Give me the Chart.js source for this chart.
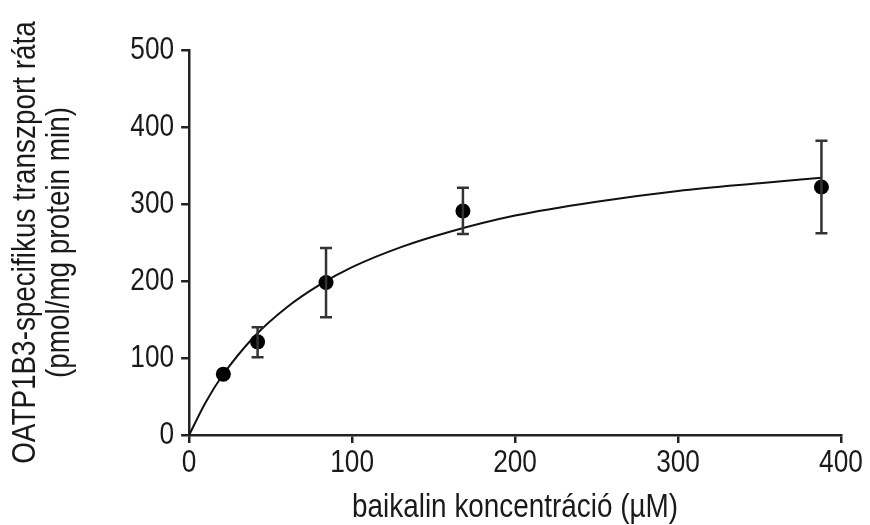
<!DOCTYPE html>
<html>
<head>
<meta charset="utf-8">
<script src="https://cdn.jsdelivr.net/npm/chart.js@4.4.1/dist/chart.umd.min.js"></script>
<style>
html,body{margin:0;padding:0;background:#fff;}
#wrap{width:870px;height:525px;}
</style>
</head>
<body>
<div id="wrap"><canvas id="c" width="870" height="525"></canvas></div>
<script>
// Measured points
const concentrations = [21, 42, 84, 168, 388];
const rates = [79, 121, 198, 291, 322];
const errUpper = [84, 140, 243, 321, 382];
const errLower = [74, 101, 153, 261, 262];
// Fitted curve
const curveX = [0, 10, 20, 40, 60, 80, 100, 130, 160, 200, 250, 300, 350, 388];
const curveY = [0, 42, 76, 128, 166, 195, 218, 244, 264, 285, 303, 317, 327, 334];
const xTicks = [0, 100, 200, 300, 400];
const yTicks = [0, 100, 200, 300, 400, 500];

const pts = concentrations.map((x, i) => ({x: x, y: rates[i]}));
const curve = curveX.map((x, i) => ({x: x, y: curveY[i]}));

// Narrow-looking text: compress glyphs horizontally (no narrow font installed)
const canvas = document.getElementById('c');
const ctx2d = canvas.getContext('2d');
const SQUEEZE = 0.82;
const origFill = ctx2d.fillText.bind(ctx2d);
const origMeasure = ctx2d.measureText.bind(ctx2d);
ctx2d.fillText = function (t, x, y) {
  this.save();
  this.translate(x, y);
  this.scale(SQUEEZE, 1);
  origFill(t, 0, 0);
  this.restore();
};
ctx2d.measureText = function (t) {
  const m = origMeasure(t);
  return {
    width: m.width * SQUEEZE,
    actualBoundingBoxAscent: m.actualBoundingBoxAscent,
    actualBoundingBoxDescent: m.actualBoundingBoxDescent,
    actualBoundingBoxLeft: m.actualBoundingBoxLeft * SQUEEZE,
    actualBoundingBoxRight: m.actualBoundingBoxRight * SQUEEZE
  };
};

const errorBars = {
  id: 'errorBars',
  afterDatasetsDraw(chart) {
    const ctx = chart.ctx, xs = chart.scales.x, ys = chart.scales.y;
    ctx.save();
    ctx.strokeStyle = '#333';
    ctx.lineWidth = 2.5;
    concentrations.forEach((c, i) => {
      const px = xs.getPixelForValue(c);
      const top = ys.getPixelForValue(errUpper[i]);
      const bot = ys.getPixelForValue(errLower[i]);
      if (Math.abs(bot - top) < 16) return;
      ctx.beginPath();
      ctx.moveTo(px, top); ctx.lineTo(px, bot);
      ctx.moveTo(px - 6, top); ctx.lineTo(px + 6, top);
      ctx.moveTo(px - 6, bot); ctx.lineTo(px + 6, bot);
      ctx.stroke();
    });
    ctx.restore();
  }
};

Chart.defaults.font.family = '"Liberation Sans", Arial, sans-serif';
Chart.defaults.color = '#1a1a1a';

new Chart(canvas, {
  type: 'scatter',
  data: {
    datasets: [
      {
        data: curve, showLine: true, pointRadius: 0, borderColor: '#111',
        borderWidth: 2, tension: 0.4, cubicInterpolationMode: 'monotone', order: 2
      },
      {
        data: pts, pointRadius: 7.5, pointBackgroundColor: '#000', pointBorderColor: '#000',
        pointBorderWidth: 0, order: 1
      }
    ]
  },
  options: {
    responsive: false,
    animation: false,
    devicePixelRatio: 1,
    layout: {padding: {top: 50, right: 29, left: 6, bottom: 0}},
    plugins: {legend: {display: false}, tooltip: {enabled: false}},
    scales: {
      x: {
        type: 'linear', min: 0, max: 400,
        afterBuildTicks: (s) => { s.ticks = xTicks.map(v => ({value: v})); },
        grid: {drawOnChartArea: false, tickLength: 8, color: '#222', lineWidth: 2.5},
        border: {color: '#222', width: 2.5},
        ticks: {font: {size: 32, lineHeight: 1}, padding: 4, color: '#1a1a1a'},
        title: {display: true, text: 'baikalin koncentráció (µM)', font: {size: 34, lineHeight: 1}, color: '#1a1a1a', padding: {top: 8, bottom: 0}}
      },
      y: {
        type: 'linear', min: 0, max: 500,
        afterBuildTicks: (s) => { s.ticks = yTicks.map(v => ({value: v})); },
        grid: {drawOnChartArea: false, tickLength: 8, color: '#222', lineWidth: 2.5},
        border: {color: '#222', width: 2.5},
        ticks: {font: {size: 32, lineHeight: 1}, padding: 7, color: '#1a1a1a'},
        title: {display: true, text: ['OATP1B3-specifikus transzport ráta', '(pmol/mg protein min)'], font: {size: 34, lineHeight: 1.02}, color: '#1a1a1a', padding: {top: 2, bottom: 46}}
      }
    }
  },
  plugins: [errorBars]
});
</script>
</body>
</html>
